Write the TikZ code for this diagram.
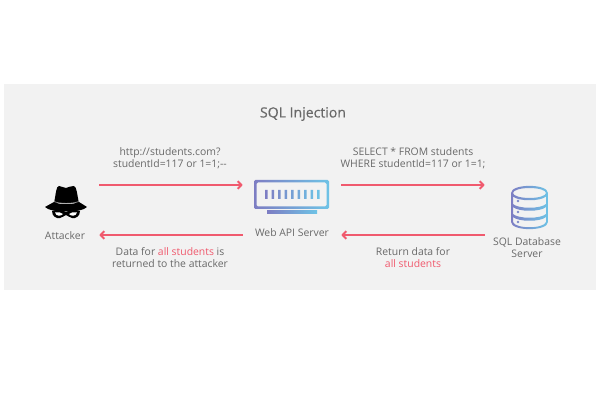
\documentclass[tikz,border=0pt]{standalone}
\usepackage{fontspec}
\setmainfont{Open Sans}
\usetikzlibrary{arrows.meta,positioning}
\definecolor{pink}{RGB}{240,90,110}
\definecolor{txt}{RGB}{105,105,105}
\definecolor{gr1}{RGB}{125,125,195}
\definecolor{gr2}{RGB}{110,195,230}
\tikzset{
  flow/.style={pink,line width=1.4pt,-{Straight Barb[length=2.6pt,width=5.5pt]}},
  label/.style={txt,align=center,inner sep=0pt,font=\fontsize{7.4}{8.5}\selectfont},
  icon/.style={inner sep=0pt,minimum height=2cm},
  grad/.style={left color=gr1,right color=gr2,even odd rule}
}
\newcommand{\hl}[1]{\textcolor{pink}{#1}}
\begin{document}
\begin{tikzpicture}[x=0.025cm,y=-0.025cm]
\useasboundingbox(0,0)rectangle(600,400);
\fill[black!5](4,84)rectangle(596,290);
\node[txt,font=\fontsize{10}{12}\selectfont\addfontfeature{FakeBold=0.4}](title)at(303,114){SQL Injection};
% icons
\node[icon,minimum width=1.7cm](attacker)at(65,210){};
\node[icon,minimum width=2.45cm](server)at(292,210){};
\node[icon,minimum width=2.1cm](db)at(527,210){};
% hat
\fill[black](54,203)..controls(56,194)and(56,186)..(59,186)..controls(62,186)and(63,188)..(66,188)..controls(69,188)and(71,185)..(74,186)..controls(77,187)and(77,195)..(79,203)--cycle;
\fill[black](45,207)..controls(48,205)and(51,204)..(54,202)..controls(60,205)and(72,205)..(79,202)..controls(82,204)and(84,205)..(87,207)..controls(82,213)and(50,213)..(45,207)--cycle;
\draw[black!45,line width=0.5pt](54,201.5)..controls(60,204)and(72,204)..(79,201.5);
% mask
\fill[black](52,211)..controls(57,209)and(62,210)..(66,212)..controls(70,210)and(75,209)..(80,211)..controls(80,216)and(76,219)..(72,218)..controls(69,218)and(68,215)..(66,215)..controls(64,215)and(63,218)..(60,218)..controls(56,219)and(52,216)..(52,211)--cycle;
\fill[white](55,212.5)..controls(58,211.5)and(61,212.5)..(63,214)..controls(61,216.5)and(56,216.5)..(55,212.5)--cycle;
\fill[white](77,212.5)..controls(74,211.5)and(71,212.5)..(69,214)..controls(71,216.5)and(76,216.5)..(77,212.5)--cycle;
% server
\shade[grad,rounded corners=1pt](254,180)rectangle(329,209)(256.5,182.5)rectangle(326.5,206.5);
\shade[left color=gr1,right color=gr2](267,211)rectangle(317,214);
\shade[left color=gr1,right color=gr2]
  \foreach \x in {0,...,8}{(265+\x*6.5,190)rectangle(267.5+\x*6.5,199)};
% database
\shade[grad](511,193)..controls(511,183.5)and(548,183.5)..(548,193)--(548,222)..controls(548,231.5)and(511,231.5)..(511,222)--cycle
  (529.5,193)ellipse(16.5 and 5)
  (513,196.5)..controls(518,201.5)and(541,201.5)..(546,196.5)--(546,204)..controls(541,209)and(518,209)..(513,204)--cycle
  (513,207)..controls(518,212)and(541,212)..(546,207)--(546,214)..controls(541,219)and(518,219)..(513,214)--cycle
  (513,217)..controls(518,222)and(541,222)..(546,217)--(546,222)..controls(544,229)and(515,229)..(513,222)--cycle
  (518,201)circle(1.3)(518,212)circle(1.3)(518,222)circle(1.3);
% arrows
\draw[flow]([yshift=0.625cm]attacker.east)--([yshift=0.625cm]server.west);
\draw[flow]([yshift=0.625cm]server.east)--([yshift=0.625cm]db.west);
\draw[flow]([yshift=-0.625cm]db.west)--([yshift=-0.625cm]server.east);
\draw[flow]([yshift=-0.625cm]server.west)--([yshift=-0.625cm]attacker.east);
% labels
\node[label](lblattacker)at(65,236){Attacker};
\node[label](lblserver)at(292,233){Web API Server};
\node[label](lbldb)at(527,248){SQL Database\\Server};
\node[label](req)at(170,158){http://students.com?\\studentId=117 or 1=1;{-}{-}};
\node[label](query)at(413,158){SELECT * FROM students\\WHERE studentId=117 or 1=1;};
\node[label](res)at(170,258){Data for \hl{all students} is\\returned to the attacker};
\node[label](ret)at(413,258){Return data for\\\hl{all students}};
\end{tikzpicture}
\end{document}
